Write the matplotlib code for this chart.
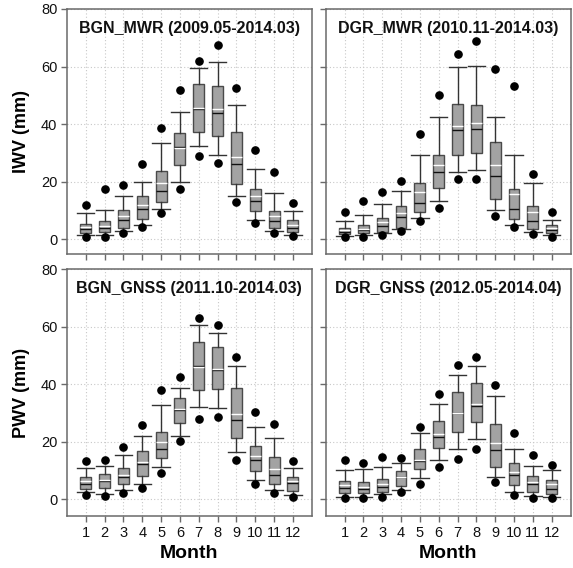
import matplotlib
matplotlib.use("Agg")
import matplotlib.pyplot as plt

plt.rcParams['font.family'] = ['Liberation Sans', 'DejaVu Sans']

months = list(range(1, 13))

# Per-month statistics: 5th pct, 10th pct, Q1, median, mean, Q3, 90th pct, 95th pct
bgn_mwr = {
    "p5":  [0.8, 0.8, 2.2, 4.1, 8.9, 17.3, 28.9, 26.3, 12.8, 5.7, 2.2, 1.0],
    "p10": [1.4, 1.4, 2.9, 5.0, 10.3, 19.9, 32.3, 29.1, 14.8, 6.6, 2.9, 1.4],
    "q1":  [2.2, 2.3, 3.7, 7.0, 13.0, 25.7, 37.1, 35.9, 19.0, 9.6, 3.9, 2.3],
    "med": [3.4, 3.9, 6.6, 10.3, 16.8, 32.1, 45.2, 43.7, 26.0, 13.1, 6.3, 3.9],
    "mean": [4.3, 4.5, 8.0, 11.9, 19.4, 31.5, 45.7, 45.1, 28.5, 15.0, 8.0, 4.9],
    "q3":  [5.4, 6.4, 10.0, 15.1, 23.8, 36.9, 53.8, 53.3, 37.1, 17.3, 9.9, 6.5],
    "p90": [9.2, 10.0, 15.1, 19.9, 33.3, 44.3, 59.6, 61.6, 46.6, 24.5, 16.0, 9.9],
    "p95": [11.8, 17.4, 18.8, 26.0, 38.7, 51.9, 61.9, 67.5, 52.4, 31.1, 23.4, 12.5],
}
dgr_mwr = {
    "p5":  [0.6, 0.8, 1.4, 2.8, 6.4, 10.9, 20.8, 20.8, 8.1, 4.3, 1.7, 0.8],
    "p10": [1.2, 1.4, 2.0, 3.5, 7.2, 13.4, 23.2, 23.9, 10.1, 4.9, 2.3, 1.4],
    "q1":  [1.6, 2.0, 2.6, 3.9, 9.3, 17.9, 29.1, 30.0, 13.8, 6.8, 3.4, 2.0],
    "med": [2.6, 3.3, 4.5, 7.5, 12.5, 23.3, 37.9, 38.1, 21.9, 10.3, 6.4, 3.1],
    "mean": [3.1, 3.5, 6.0, 9.2, 16.2, 25.7, 39.3, 40.2, 25.7, 15.7, 9.4, 3.7],
    "q3":  [3.9, 4.9, 7.4, 11.5, 19.6, 29.2, 46.8, 46.6, 33.9, 17.3, 11.6, 4.8],
    "p90": [6.4, 8.2, 12.1, 16.8, 29.3, 42.4, 59.9, 60.3, 42.6, 29.3, 19.6, 6.5],
    "p95": [9.5, 13.1, 16.5, 20.2, 36.5, 50.1, 64.3, 69.0, 59.0, 53.3, 22.6, 9.3],
}
bgn_gnss = {
    "p5":  [1.4, 1.0, 2.2, 3.8, 9.2, 20.2, 27.8, 28.6, 13.6, 5.1, 2.0, 0.8],
    "p10": [2.3, 1.7, 3.2, 5.4, 11.0, 22.0, 32.1, 31.5, 16.2, 6.5, 3.1, 1.4],
    "q1":  [3.4, 3.7, 5.1, 7.9, 14.1, 26.6, 37.9, 38.1, 21.1, 9.7, 5.1, 2.8],
    "med": [5.2, 6.3, 7.8, 12.2, 17.5, 31.0, 46.3, 44.8, 27.5, 13.7, 8.3, 5.7],
    "mean": [6.3, 6.6, 8.3, 13.0, 19.9, 31.2, 46.0, 45.2, 29.7, 15.1, 10.4, 6.3],
    "q3":  [7.5, 8.6, 10.7, 16.7, 23.2, 35.0, 54.6, 52.9, 38.5, 18.4, 14.7, 7.8],
    "p90": [10.7, 11.5, 15.2, 21.8, 32.7, 38.5, 60.5, 57.6, 46.3, 25.2, 21.3, 10.9],
    "p95": [13.2, 13.7, 18.0, 25.9, 37.8, 42.3, 62.8, 60.4, 49.4, 30.4, 26.1, 13.2],
}
dgr_gnss = {
    "p5":  [0.2, 0.2, 0.8, 2.3, 5.4, 11.1, 13.9, 17.3, 5.9, 1.4, 0.5, 0.2],
    "p10": [0.8, 0.8, 1.6, 3.1, 7.2, 13.6, 17.5, 20.8, 7.5, 2.3, 1.0, 0.6],
    "q1":  [2.0, 2.0, 2.3, 4.6, 10.3, 17.6, 23.4, 26.7, 11.1, 4.8, 2.6, 1.6],
    "med": [3.7, 3.4, 4.1, 7.5, 13.2, 21.7, 29.8, 32.5, 17.0, 8.3, 5.4, 3.6],
    "mean": [4.9, 4.3, 5.2, 7.8, 13.6, 22.6, 30.0, 33.0, 19.4, 9.4, 6.0, 5.4],
    "q3":  [6.4, 6.0, 6.8, 9.9, 17.4, 27.1, 37.1, 40.2, 26.2, 12.4, 8.0, 6.6],
    "p90": [10.0, 10.3, 11.2, 12.4, 23.0, 32.9, 43.2, 46.3, 35.9, 17.5, 11.6, 10.1],
    "p95": [13.6, 12.4, 14.5, 14.1, 25.2, 36.5, 46.7, 49.4, 39.8, 23.1, 15.4, 11.9],
}

panels = [
    ("BGN_MWR (2009.05-2014.03)", bgn_mwr),
    ("DGR_MWR (2010.11-2014.03)", dgr_mwr),
    ("BGN_GNSS (2011.10-2014.03)", bgn_gnss),
    ("DGR_GNSS (2012.05-2014.04)", dgr_gnss),
]

W, H = 573, 568
fig = plt.figure(figsize=(W / 100, H / 100), dpi=100)

# axes rectangles in pixel units: left, right, top, bottom
rects = [
    (67, 311.7, 9, 254),
    (325.7, 570.5, 9, 254),
    (67, 311.7, 269, 516),
    (325.7, 570.5, 269, 516),
]
ylims = [(-5.2, 80), (-5.2, 80), (-5.9, 80), (-5.9, 80)]

spine_col = "#6a6a6a"
edge_col = "#4a4a4a"
fill_col = "#a3a3a3"

for i, ((title, d), (l, r, t, b)) in enumerate(zip(panels, rects)):
    ax = fig.add_axes([l / W, 1 - b / H, (r - l) / W, (b - t) / H])
    stats = []
    for k in range(12):
        stats.append(dict(
            whislo=d["p10"][k], q1=d["q1"][k], med=d["med"][k],
            mean=d["mean"][k], q3=d["q3"][k], whishi=d["p90"][k],
            fliers=[d["p5"][k], d["p95"][k]],
        ))
    ax.bxp(
        stats, positions=months, widths=0.58, showmeans=True, meanline=True,
        patch_artist=True, shownotches=False,
        boxprops=dict(facecolor=fill_col, edgecolor=edge_col, linewidth=1.0),
        medianprops=dict(color="#111111", linewidth=1.0),
        meanprops=dict(color="white", linestyle="-", linewidth=1.0),
        whiskerprops=dict(color="#333333", linewidth=1.0),
        capprops=dict(color="#333333", linewidth=1.0),
        capwidths=0.92,
        flierprops=dict(marker="o", markerfacecolor="black",
                        markeredgecolor="black", markersize=5.2, linestyle="none"),
        zorder=3,
    )
    ax.set_xlim(0, 13)
    ax.set_ylim(*ylims[i])
    ax.set_xticks(months)
    ax.set_yticks([0, 20, 40, 60, 80])
    ax.set_axisbelow(True)
    ax.grid(True, linestyle=(0, (1, 2)), color="#c8c8c8", linewidth=0.8)
    for s in ax.spines.values():
        s.set_color(spine_col)
        s.set_linewidth(1.1)
    ax.tick_params(direction="out", length=4, width=1.0, color=spine_col,
                   labelsize=10.5, labelcolor="#111111", pad=3)
    if i < 2:
        ax.tick_params(labelbottom=False)
    else:
        ax.set_xticklabels([str(m) for m in months])
        ax.set_xlabel("Month", fontsize=14, fontweight="bold", labelpad=4)
    if i % 2 == 1:
        ax.tick_params(labelleft=False)
    else:
        ax.set_ylabel("IWV (mm)" if i == 0 else "PWV (mm)", fontsize=13,
                      fontweight="bold", labelpad=8)
    ax.text(0.5, 0.92, title, transform=ax.transAxes, ha="center", va="center",
            fontsize=11.5, fontweight="bold", color="#111111")

fig.savefig("out.png", dpi=100)
